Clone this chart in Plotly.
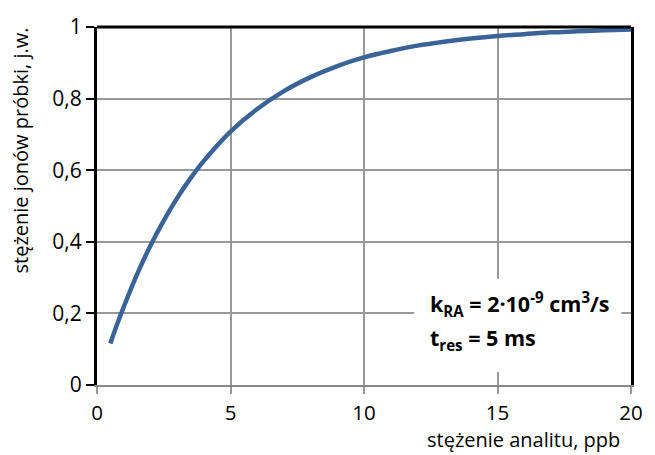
import plotly.graph_objects as go

conc = [0.5, 0.75, 1, 1.5, 2, 2.5, 3, 3.5, 4, 5, 6, 7, 8, 9, 10, 11, 12, 13, 14, 15, 16, 17, 18, 19, 20]
ions = [0.116, 0.169, 0.218, 0.309, 0.389, 0.459, 0.522, 0.577, 0.626, 0.708, 0.771, 0.821, 0.860, 0.891, 0.915, 0.933, 0.948, 0.959, 0.968, 0.975, 0.980, 0.985, 0.988, 0.991, 0.993]

x_ticks = [0, 5, 10, 15, 20]
x_labels = ["0", "5", "10", "15", "20"]
y_ticks = [0, 0.2, 0.4, 0.6, 0.8, 1]
y_labels = ["0", "0,2", "0,4", "0,6", "0,8", "1"]

FONT = "Open Sans"

fig = go.Figure()
fig.add_trace(go.Scatter(x=conc, y=ions, mode="lines",
                         line=dict(color="#3a6398", width=4.5, shape="spline"),
                         showlegend=False, hoverinfo="skip"))

fig.update_layout(
    width=655, height=455,
    margin=dict(l=97, r=17, t=22, b=70),
    paper_bgcolor="white", plot_bgcolor="white",
    font=dict(family=FONT, size=21, color="black"),
    xaxis=dict(range=[0, 20], tickvals=x_ticks, ticktext=x_labels,
               showgrid=True, gridcolor="#999999", gridwidth=1.5,
               showline=True, linecolor="#888888", linewidth=2,
               ticks="outside", ticklen=7, tickcolor="#999999", tickwidth=1.5,
               ticklabelstandoff=1,
               zeroline=False, tickfont=dict(size=20.5, family=FONT)),
    yaxis=dict(range=[0, 1], tickvals=y_ticks, ticktext=y_labels,
               showgrid=True, gridcolor="#999999", gridwidth=1.5,
               showline=True, linecolor="black", linewidth=3, mirror=True,
               ticks="outside", ticklen=8, tickcolor="black", tickwidth=2,
               zeroline=False, tickfont=dict(size=21, family=FONT)),
)

# top border
fig.add_shape(type="line", xref="paper", yref="paper", x0=0, x1=1, y0=1, y1=1,
              line=dict(color="black", width=3))

# white box behind info text
fig.add_shape(type="rect", xref="paper", yref="paper", x0=0.594, x1=0.982, y0=0.036, y1=0.297,
              fillcolor="white", line=dict(width=0), layer="above")

# axis titles
fig.add_annotation(text="stężenie analitu, ppb", xref="paper", yref="paper",
                   x=1.0, y=-0.1928, xanchor="right", yanchor="bottom", showarrow=False,
                   xshift=-10, borderpad=0, font=dict(size=20, family=FONT))
fig.add_annotation(text="stężenie jonów próbki, j.w.", xref="paper", yref="paper",
                   x=0, y=0.655, xshift=-76, textangle=-90, xanchor="center", yanchor="middle",
                   showarrow=False, font=dict(size=20, family=FONT))

# info text
fig.add_annotation(text="<b>k<sub>RA</sub> = 2·10<sup>-9</sup> cm<sup>3</sup>/s</b>",
                   xref="paper", yref="paper", x=0.619, y=0.226, xanchor="left", yanchor="middle",
                   showarrow=False, align="left", font=dict(size=21.5, family=FONT))
fig.add_annotation(text="<b>t<sub>res</sub> = 5 ms</b>",
                   xref="paper", yref="paper", x=0.619, y=0.128, xanchor="left", yanchor="middle",
                   showarrow=False, align="left", font=dict(size=21.5, family=FONT))

fig.write_html("out.html")
